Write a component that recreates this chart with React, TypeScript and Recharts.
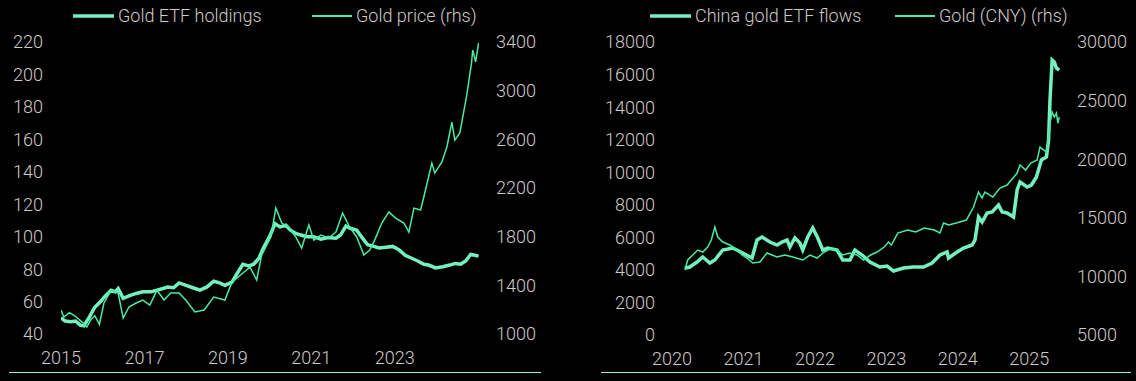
import React from 'react';
import { LineChart, Line, XAxis, YAxis } from 'recharts';

// colours / fonts
const FONT = 'Roboto, "Noto Sans", sans-serif';
const TEXT = '#cfcac5';
const THICK = '#74f0c0';
const THIN = '#47eba2';

// ---- left panel: Gold ETF holdings vs gold price (USD) ----
const etfYears = [
  2015.0, 2015.1, 2015.24, 2015.35, 2015.46, 2015.55, 2015.67, 2015.81, 2015.95, 2016.03,
  2016.2, 2016.3, 2016.37, 2016.49, 2016.63, 2016.8, 2016.96, 2017.15, 2017.3, 2017.56,
  2017.7, 2017.83, 2018.0, 2018.16, 2018.33, 2018.5, 2018.66, 2018.8, 2018.93, 2019.1,
  2019.19, 2019.36, 2019.5, 2019.62, 2019.75, 2019.86, 2020.0, 2020.13, 2020.25, 2020.39,
  2020.5, 2020.63, 2020.75, 2020.89, 2021.05, 2021.23, 2021.4, 2021.59, 2021.7, 2021.83,
  2021.95, 2022.09, 2022.2, 2022.35, 2022.5, 2022.62, 2022.8, 2022.95, 2023.1, 2023.25,
  2023.38, 2023.55, 2023.7, 2023.81, 2023.98, 2024.15, 2024.32, 2024.45, 2024.58, 2024.7,
  2024.82, 2024.92, 2025.01,
];
const etfHoldings = [
  50, 48, 47.5, 48, 45.5, 45, 50, 56.5, 60, 62.5,
  67, 66, 68, 62, 63.5, 65, 66, 66, 67, 69,
  68.5, 71.5, 70, 68.5, 67, 69, 72.5, 71.5, 70, 72,
  76, 83, 82, 83, 87, 93.5, 100, 108, 106, 107,
  104, 102, 101, 100, 100, 98.5, 99.5, 99, 101, 106.5,
  105, 104, 100, 95, 94, 93, 93.5, 94, 92, 88.5,
  87, 85, 83, 82.5, 80.7, 81.5, 82.5, 83.5, 83, 85,
  89, 88.5, 88,
];

const goldYears = [
  2015.0, 2015.07, 2015.2, 2015.34, 2015.5, 2015.62, 2015.72, 2015.81, 2015.92, 2016.03,
  2016.2, 2016.37, 2016.49, 2016.63, 2016.8, 2016.96, 2017.13, 2017.3, 2017.47, 2017.63,
  2017.83, 2017.99, 2018.21, 2018.43, 2018.66, 2018.93, 2019.1, 2019.36, 2019.53, 2019.69,
  2019.81, 2020.03, 2020.15, 2020.29, 2020.46, 2020.63, 2020.77, 2020.94, 2021.06, 2021.23,
  2021.42, 2021.59, 2021.75, 2021.92, 2022.09, 2022.26, 2022.4, 2022.52, 2022.69, 2022.86,
  2023.02, 2023.22, 2023.34, 2023.46, 2023.62, 2023.72, 2023.89, 2023.96, 2024.13, 2024.25,
  2024.37, 2024.44, 2024.56, 2024.72, 2024.84, 2024.87, 2024.94, 2025.01,
];
const goldPrice = [
  1197, 1140, 1175, 1148, 1100, 1057, 1120, 1150, 1080, 1255,
  1360, 1337, 1131, 1222, 1255, 1279, 1238, 1360, 1279, 1337,
  1337, 1279, 1181, 1197, 1304, 1279, 1427, 1501, 1550, 1444,
  1649, 1797, 2035, 1912, 1879, 1797, 1707, 1896, 1772, 1813,
  1789, 1838, 1994, 1879, 1797, 1649, 1690, 1772, 1912, 2003,
  1953, 1912, 1838, 2035, 2019, 2159, 2405, 2323, 2414, 2537,
  2742, 2594, 2652, 2948, 3227, 3334, 3236, 3392,
];

// ---- right panel: China gold ETF flows vs gold (CNY) ----
const cnEtfYears = [
  2020.18, 2020.25, 2020.35, 2020.43, 2020.53, 2020.6, 2020.71, 2020.85, 2020.99, 2021.12,
  2021.19, 2021.26, 2021.37, 2021.47, 2021.54, 2021.61, 2021.65, 2021.72, 2021.79, 2021.83,
  2021.9, 2021.97, 2022.04, 2022.11, 2022.18, 2022.31, 2022.39, 2022.49, 2022.56, 2022.66,
  2022.77, 2022.91, 2023.01, 2023.1, 2023.24, 2023.38, 2023.52, 2023.64, 2023.75, 2023.85,
  2023.87, 2023.99, 2024.08, 2024.2, 2024.24, 2024.29, 2024.34, 2024.41, 2024.48, 2024.57,
  2024.62, 2024.69, 2024.78, 2024.83, 2024.87, 2024.97, 2025.03, 2025.1, 2025.17, 2025.24,
  2025.27, 2025.29, 2025.32, 2025.35, 2025.38, 2025.42,
];
const cnEtfFlows = [
  4116, 4177, 4484, 4791, 4423, 4607, 5222, 5344, 5037, 4730,
  5836, 6020, 5713, 5529, 5713, 5836, 5406, 5959, 5651, 5222,
  6020, 6573, 5959, 5222, 5344, 5222, 4607, 4607, 5222, 4914,
  4484, 4177, 4238, 3931, 4116, 4177, 4177, 4423, 4914, 5099,
  4730, 5099, 5344, 5529, 5836, 7249, 6942, 7494, 7556, 7986,
  7556, 7494, 7249, 8907, 9399, 9092, 9214, 9706, 10750, 10934,
  11978, 14436, 16893, 16770, 16402, 16279,
];

const cnyYears = [
  2020.18, 2020.22, 2020.29, 2020.36, 2020.43, 2020.5, 2020.55, 2020.6, 2020.64, 2020.71,
  2020.81, 2020.91, 2020.98, 2021.05, 2021.13, 2021.23, 2021.33, 2021.4, 2021.47, 2021.58,
  2021.69, 2021.83, 2021.93, 2022.03, 2022.11, 2022.21, 2022.31, 2022.39, 2022.49, 2022.59,
  2022.68, 2022.78, 2022.87, 2022.97, 2023.03, 2023.07, 2023.16, 2023.3, 2023.41, 2023.53,
  2023.67, 2023.75, 2023.8, 2023.87, 2023.98, 2024.12, 2024.22, 2024.29, 2024.34, 2024.38,
  2024.49, 2024.59, 2024.69, 2024.83, 2024.87, 2024.95, 2025.02, 2025.11, 2025.15, 2025.24,
  2025.27, 2025.29, 2025.32, 2025.35, 2025.38, 2025.4, 2025.42,
];
const cnyGold = [
  10545, 11398, 11824, 12251, 12080, 12506, 13104, 14212, 13359, 12933,
  12677, 12251, 11824, 11568, 11142, 11227, 11995, 11824, 11653, 11824,
  11653, 11398, 11824, 11568, 11995, 12336, 12251, 11824, 11995, 11824,
  11398, 11824, 12080, 12506, 12933, 12677, 13700, 13956, 13786, 14127,
  13956, 13700, 14553, 14383, 14553, 14809, 15918, 17198, 16686, 17198,
  16771, 17539, 17795, 18819, 19501, 19075, 19672, 19928, 21036, 20610,
  21889, 23084, 24022, 23596, 23937, 23084, 23596,
];

const leftEtf = etfYears.map((x, i) => ({ x, v: etfHoldings[i] }));
const leftGold = goldYears.map((x, i) => ({ x, v: goldPrice[i] }));
const rightEtf = cnEtfYears.map((x, i) => ({ x, v: cnEtfFlows[i] }));
const rightGold = cnyYears.map((x, i) => ({ x, v: cnyGold[i] }));

const tickStyle = { fill: TEXT, fontSize: 18, fontFamily: FONT, fontWeight: 300 };

const LegendItem = ({ left, lineWidth, thick, label }: { left: number; lineWidth: number; thick: boolean; label: string }) => (
  <div style={{ position: 'absolute', left, top: 4, height: 24, display: 'flex', alignItems: 'center', whiteSpace: 'nowrap' }}>
    <svg width={lineWidth} height={8} style={{ marginRight: 4 }}>
      <line x1={0} y1={4} x2={lineWidth} y2={4} stroke={thick ? THICK : THIN} strokeWidth={thick ? 3.5 : 2} />
    </svg>
    <span style={{ color: TEXT, fontFamily: FONT, fontSize: 18, fontWeight: 300, lineHeight: '24px' }}>{label}</span>
  </div>
);

const App: React.FC = () => {
  return (
    <div style={{ position: 'absolute', left: 0, top: 0, width: 1136, height: 381, background: '#000', overflow: 'hidden' }}>
      {/* legends */}
      <LegendItem left={73} lineWidth={41} thick label="Gold ETF holdings" />
      <LegendItem left={312} lineWidth={40} thick={false} label="Gold price (rhs)" />
      <LegendItem left={650} lineWidth={41} thick label="China gold ETF flows" />
      <LegendItem left={895} lineWidth={40} thick={false} label="Gold (CNY) (rhs)" />

      {/* left panel */}
      <div style={{ position: 'absolute', left: 0, top: 0 }}>
        <LineChart width={560} height={381} margin={{ top: 42, right: 0, bottom: 17, left: 0 }}>
          <XAxis
            type="number"
            dataKey="x"
            domain={[2015, 2025.02]}
            ticks={[2015, 2017, 2019, 2021, 2023]}
            interval={0}
            allowDataOverflow
            axisLine={false}
            tickLine={false}
            tickSize={0}
            tickMargin={17}
            height={30}
            tick={tickStyle}
          />
          <YAxis
            yAxisId="l"
            domain={[40, 220]}
            ticks={[40, 60, 80, 100, 120, 140, 160, 180, 200, 220]}
            interval={0}
            axisLine={false}
            tickLine={false}
            tickSize={0}
            tickMargin={18}
            width={61}
            tick={tickStyle}
          />
          <YAxis
            yAxisId="r"
            orientation="right"
            domain={[1000, 3400]}
            ticks={[1000, 1400, 1800, 2200, 2600, 3000, 3400]}
            interval={0}
            axisLine={false}
            tickLine={false}
            tickSize={0}
            tickMargin={17}
            width={81}
            tick={tickStyle}
          />
          <Line yAxisId="l" data={leftEtf} dataKey="v" type="linear" stroke={THICK} strokeWidth={3.5} dot={false} isAnimationActive={false} />
          <Line yAxisId="r" data={leftGold} dataKey="v" type="linear" stroke={THIN} strokeWidth={1.5} dot={false} isAnimationActive={false} />
        </LineChart>
      </div>

      {/* right panel */}
      <div style={{ position: 'absolute', left: 570, top: 0 }}>
        <LineChart width={566} height={381} margin={{ top: 42, right: 0, bottom: 16, left: 0 }}>
          <XAxis
            type="number"
            dataKey="x"
            domain={[2020, 2025.43]}
            ticks={[2020, 2021, 2022, 2023, 2024, 2025]}
            interval={0}
            allowDataOverflow
            axisLine={false}
            tickLine={false}
            tickSize={0}
            tickMargin={17}
            height={30}
            tick={tickStyle}
          />
          <YAxis
            yAxisId="l"
            domain={[0, 18000]}
            ticks={[0, 2000, 4000, 6000, 8000, 10000, 12000, 14000, 16000, 18000]}
            interval={0}
            axisLine={false}
            tickLine={false}
            tickSize={0}
            tickMargin={17}
            width={102}
            tick={tickStyle}
          />
          <YAxis
            yAxisId="r"
            orientation="right"
            domain={[5000, 30000]}
            ticks={[5000, 10000, 15000, 20000, 25000, 30000]}
            interval={0}
            axisLine={false}
            tickLine={false}
            tickSize={0}
            tickMargin={17}
            width={76}
            tick={tickStyle}
          />
          <Line yAxisId="l" data={rightEtf} dataKey="v" type="linear" stroke={THICK} strokeWidth={3.5} dot={false} isAnimationActive={false} />
          <Line yAxisId="r" data={rightGold} dataKey="v" type="linear" stroke={THIN} strokeWidth={1.5} dot={false} isAnimationActive={false} />
        </LineChart>
      </div>

      {/* bottom rules */}
      <div style={{ position: 'absolute', left: 9, top: 372, width: 532, height: 1, background: '#a6f0d2' }} />
      <div style={{ position: 'absolute', left: 601, top: 372, width: 530, height: 1, background: '#a6f0d2' }} />
    </div>
  );
};

export default App;
